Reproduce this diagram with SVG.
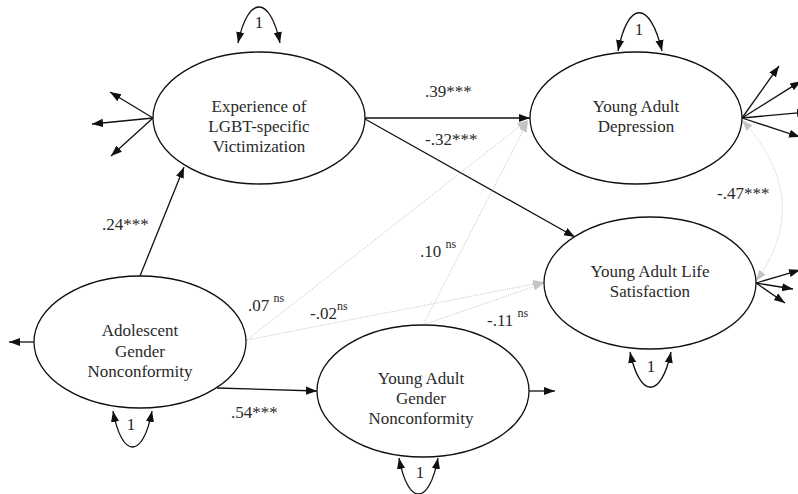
<svg xmlns="http://www.w3.org/2000/svg" width="798" height="494" viewBox="0 0 798 494" font-family="Liberation Serif, Tinos, Noto Serif, DejaVu Serif, Times New Roman, Times, serif">
<defs>
<marker id="ah" viewBox="0 0 10 10" refX="10" refY="5" markerWidth="11" markerHeight="11" markerUnits="userSpaceOnUse" orient="auto-start-reverse"><path d="M0,1.3 L10,5 L0,8.7 z" fill="#111"/></marker>
<marker id="ag" viewBox="0 0 10 10" refX="10" refY="5" markerWidth="11" markerHeight="11" markerUnits="userSpaceOnUse" orient="auto-start-reverse"><path d="M0,1.3 L10,5 L0,8.7 z" fill="#c4c4c4"/></marker>
<style>
.el{fill:#fff;stroke:#111;stroke-width:1.3}
text{font-size:17px;fill:#2a2a2a}
.t{text-anchor:middle}
.sup{font-size:12px}
.s{fill:none;stroke:#111;stroke-width:1.3;marker-end:url(#ah)}
.lp{fill:none;stroke:#111;stroke-width:1.3;marker-start:url(#ah);marker-end:url(#ah)}
.d{fill:none;stroke:#bdbdbd;stroke-width:1;stroke-dasharray:1 1.5;marker-end:url(#ag)}
.dc{fill:none;stroke:#bdbdbd;stroke-width:1;stroke-dasharray:1 1.5;marker-start:url(#ag);marker-end:url(#ag)}
</style>
</defs>
<g id="connectors">
<path class="s" d="M365,118 L530,118"/>
<path class="s" d="M365,119 L575,237"/>
<path class="s" d="M140,276 L184,167"/>
<path class="s" d="M217,388 L317,391"/>
<path class="d" d="M247,340 L528,120"/>
<path class="d" d="M247,340 L544,282"/>
<path class="d" d="M423,325 L528,121"/>
<path class="d" d="M423,325 L544,283"/>
<path class="dc" d="M742,120 Q815,200 756,281"/>
<path class="lp" d="M238,43 C248,-5 270,-5 280,43"/>
<path class="lp" d="M618,51 C628,0 650,0 662,51"/>
<path class="lp" d="M113,411 C122,459 143,459 152,411"/>
<path class="lp" d="M630,352 C640,399 661,399 671,352"/>
<path class="lp" d="M399,458 C408,506 429,506 438,458"/>
<path class="s" d="M153,118 L110,92"/>
<path class="s" d="M153,118 L92,124"/>
<path class="s" d="M153,118 L111,156"/>
<path class="s" d="M742,118 L779,66"/>
<path class="s" d="M742,118 L801,81"/>
<path class="s" d="M742,118 L808,112"/>
<path class="s" d="M742,118 L800,137"/>
<path class="s" d="M756,283 L800,270"/>
<path class="s" d="M756,283 L793,289"/>
<path class="s" d="M756,283 L785,303"/>
<path class="s" d="M34,342 L9,342"/>
<path class="s" d="M529,391 L555,391"/>
</g>
<g id="experience">
<ellipse class="el" cx="259" cy="118" rx="106" ry="66"/>
<text class="t" x="259" y="112">Experience of</text>
<text class="t" x="259" y="132">LGBT-specific</text>
<text class="t" x="259" y="152">Victimization</text>
</g>
<g id="depression">
<ellipse class="el" cx="636" cy="118" rx="106" ry="66"/>
<text class="t" x="636" y="112">Young Adult</text>
<text class="t" x="636" y="132">Depression</text>
</g>
<g id="lifesat">
<ellipse class="el" cx="650" cy="283" rx="106" ry="66"/>
<text class="t" x="650" y="277">Young Adult Life</text>
<text class="t" x="650" y="297">Satisfaction</text>
</g>
<g id="adolescent">
<ellipse class="el" cx="140" cy="342" rx="106" ry="66"/>
<text class="t" x="140" y="336">Adolescent</text>
<text class="t" x="140" y="357">Gender</text>
<text class="t" x="140" y="377">Nonconformity</text>
</g>
<g id="yagender">
<ellipse class="el" cx="423" cy="391" rx="106" ry="66"/>
<text class="t" x="421" y="384">Young Adult</text>
<text class="t" x="421" y="404">Gender</text>
<text class="t" x="421" y="424">Nonconformity</text>
</g>
<g id="labels">
<text class="t" x="259" y="28">1</text>
<text class="t" x="639" y="35">1</text>
<text class="t" x="131" y="430">1</text>
<text class="t" x="651" y="372">1</text>
<text class="t" x="420" y="478">1</text>
<text x="425" y="97">.39***</text>
<text x="425" y="145">-.32***</text>
<text x="102" y="230">.24***</text>
<text x="248" y="311">.07 <tspan class="sup" dy="-9">ns</tspan></text>
<text x="310" y="319">-.02<tspan class="sup" dy="-9">ns</tspan></text>
<text x="420" y="257">.10 <tspan class="sup" dy="-9">ns</tspan></text>
<text x="487" y="326">-.11 <tspan class="sup" dy="-9">ns</tspan></text>
<text x="231" y="418">.54***</text>
<text x="717" y="199">-.47***</text>
</g>
</svg>
